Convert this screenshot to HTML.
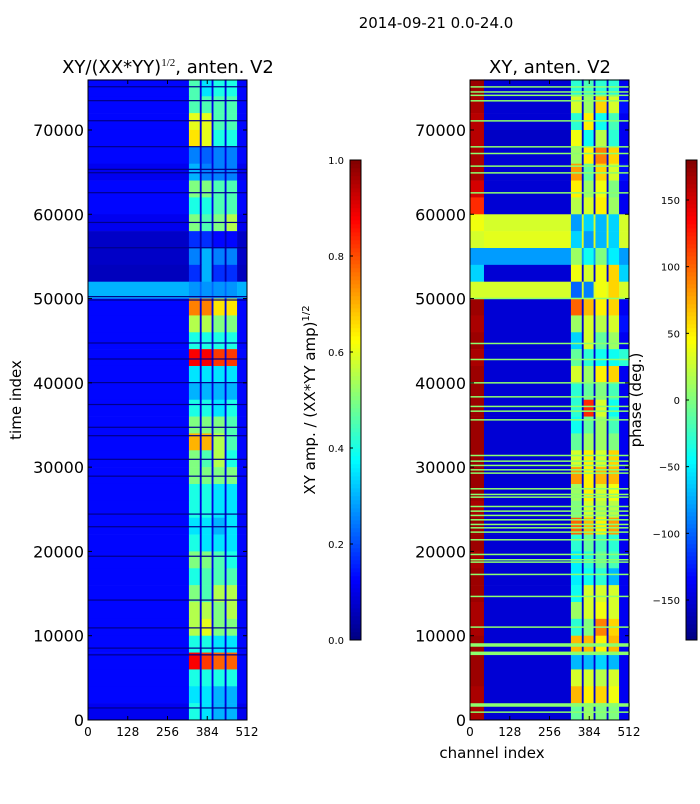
<!DOCTYPE html>
<html><head><meta charset="utf-8"><style>
body{margin:0;background:#fff;width:700px;height:800px;overflow:hidden;font-family:"DejaVu Sans","Liberation Sans",sans-serif}
svg text{font-family:"DejaVu Sans","Liberation Sans",sans-serif}
</style></head><body>
<svg id="fig" width="700" height="800" xmlns="http://www.w3.org/2000/svg">
<text x="436" y="28" font-size="15" text-anchor="middle">2014-09-21 0.0-24.0</text>
<text x="168" y="73" font-size="18" text-anchor="middle">XY/(XX*YY)<tspan dy="-7" font-size="11" font-family="Liberation Serif">1/2</tspan><tspan dy="7">, anten. V2</tspan></text>
<text x="550" y="73" font-size="18" text-anchor="middle">XY, anten. V2</text>
<text transform="translate(21,400) rotate(-90)" font-size="15" text-anchor="middle">time index</text>
<text x="492" y="758" font-size="15" text-anchor="middle">channel index</text>
<text transform="translate(315,400) rotate(-90)" font-size="15" text-anchor="middle">XY amp. / (XX*YY amp)<tspan dy="-6" font-size="10">1/2</tspan></text>
<text transform="translate(641,400) rotate(-90)" font-size="15" text-anchor="middle">phase (deg.)</text>
<g id="left"></g>
<g id="right"></g>
<g id="axes"></g>
</svg>
<script>
// ---- data ----
const rowEdgesK = [76,74,72,70,68,66,64,62,60,58,56,54,52,50,48,46,44,42,40,38,36,34,32,30,28,26,24,22,20,18,16,14,12,10,8,6,4,2,0]; // time index (thousands)
const ampCols = [0,325,360,366,398,404,440,446,480,512]; // channel edges
// amp rows: [background, band1, band2, band3, band4]
const ampVals = [
[.13,.45,.35,.4,.4],[.13,.45,.45,.45,.45],[.13,.6,.6,.45,.45],[.13,.65,.6,.4,.4],[.13,.25,.22,.25,.25],
[.11,.3,.25,.25,.25],[.13,.5,.5,.45,.45],[.13,.4,.4,.45,.45],[.11,.5,.45,.5,.55],[.07,.17,.17,.13,.13],
[.07,.25,.3,.25,.25],[.06,.17,.3,.17,.17],[.3,.27,.27,.27,.27],[.13,.75,.75,.65,.65],[.13,.55,.55,.5,.5],
[.13,.4,.4,.4,.4],[.13,.88,.88,.82,.82],[.13,.35,.35,.35,.35],[.13,.3,.3,.3,.3],[.13,.4,.4,.35,.4],
[.13,.5,.5,.5,.45],[.13,.7,.7,.55,.45],[.13,.5,.45,.55,.4],[.13,.5,.5,.5,.5],[.13,.4,.4,.35,.35],
[.13,.4,.4,.35,.35],[.13,.35,.35,.3,.35],[.13,.4,.35,.35,.35],[.13,.5,.5,.45,.4],[.13,.4,.45,.45,.45],
[.13,.5,.45,.55,.55],[.13,.55,.55,.5,.55],[.13,.55,.6,.5,.5],[.13,.4,.4,.35,.35],[.13,.88,.82,.78,.78],
[.13,.4,.4,.4,.4],[.13,.35,.35,.3,.3],[.11,.4,.35,.3,.3]];
const ampDarkLines = [75200,73550,71170,68090,65400,65000,62630,59100,56100,50300,49900,44800,42900,40100,37500,34800,33800,31000,29000,24500,23000,19500,14300,11000,8600,7800,1500];
const phaseCols = [0,45,325,360,366,398,404,440,446,480,512];
// phase rows: [redzone, mid, band1, band2, band3, band4, right]
const phaseVals = [
[170,-150,-30,-20,-30,-30,-140],[165,-150,30,10,60,30,-130],[160,-150,-30,50,-40,-20,-140],[160,-155,40,-40,20,-30,-140],
[165,-150,10,50,90,60,-140],[165,-150,80,-10,60,30,-130],[150,-150,50,10,40,0,-140],[120,-150,20,30,50,10,-140],
[40,30,-80,-60,-70,-60,30],[30,35,-60,-80,-70,-60,30],[-80,-80,10,-40,0,-50,-80],[-60,-150,40,30,40,60,-60],
[30,30,-100,-90,40,60,30],[170,-150,100,70,50,60,-140],[165,-150,10,30,20,30,-130],[170,-150,-60,30,-10,10,-140],
[165,-150,-10,-30,-40,-40,-30],[170,-150,30,10,50,60,-140],[170,-150,-30,-10,0,-20,-140],[170,-150,-30,120,30,-40,-140],
[170,-150,-40,-10,10,-20,-140],[170,-150,-10,10,10,0,-140],[170,-150,30,50,30,60,-140],[170,-150,80,50,70,70,-140],
[170,-150,10,50,30,40,-140],[165,-150,0,30,20,20,-140],[170,-150,100,70,50,80,-140],[170,-150,-30,-10,-20,-30,-140],
[165,-150,-50,-30,-10,-20,-140],[170,-150,-50,-40,-30,-70,-140],[170,-150,-40,30,30,30,-140],[165,-150,10,30,40,30,-140],
[165,-150,-30,0,90,60,-140],[170,-150,70,70,50,70,-140],[170,-150,-70,-70,-60,-70,-140],[170,-150,30,30,20,30,-140],
[165,-150,70,50,60,40,-140],[165,-150,-10,10,0,0,-140]];
const greenLines = [75200,74600,74200,73550,71170,68090,67300,65800,65000,62630,50100,44760,42860,40090,38430,37290,36730,35700,31470,30800,30290,29770,29380,27520,26850,26530,25420,24870,24360,23840,23290,22890,22380,21470,19730,19100,18820,17360,14750,11110,1020];
const thickGreen = [8930,7940,1810];
const yTicks = [0,10000,20000,30000,40000,50000,60000,70000];
const xTicks = [0,128,256,384,512];
const ampTicks = [0.0,0.2,0.4,0.6,0.8,1.0];
const phaseTicks = [-150,-100,-50,0,50,100,150];
// ---- helpers ----
const NS="http://www.w3.org/2000/svg";
function jet(v){v=Math.max(0,Math.min(1,v));
 const r=Math.min(4*v-1.5,-4*v+4.5),g=Math.min(4*v-0.5,-4*v+3.5),b=Math.min(4*v+0.5,-4*v+2.5);
 const c=x=>Math.round(255*Math.max(0,Math.min(1,x)));return `rgb(${c(r)},${c(g)},${c(b)})`;}
const Y0=720,Y1=80,TMAX=75930;
const yS=t=>Y0-(t/TMAX)*(Y0-Y1);
function xS(ch,x0){return x0+ch/512*159;}
function mk(tag,attrs,parent){const e=document.createElementNS(NS,tag);for(const k in attrs)e.setAttribute(k,attrs[k]);parent.appendChild(e);return e;}
const L=document.getElementById('left'),R=document.getElementById('right'),A=document.getElementById('axes');
// left heatmap
for(let i=0;i<ampVals.length;i++){
 const yt=yS(rowEdgesK[i]*1000),yb=yS(rowEdgesK[i+1]*1000);
 const row=ampVals[i];const map=[0,1,0,2,0,3,0,4,0];
 for(let j=0;j<ampCols.length-1;j++){
  let v=row[map[j]]; if(map[j]===0&&j>0&&j<8) v=row[0]*0.75;
  const x0=xS(ampCols[j],88),x1=xS(ampCols[j+1],88);
  const r=mk('rect',{x:x0,y:yt,width:x1-x0+0.3,height:yb-yt+0.3,fill:jet(v)},L);
  
  
 }
}
for(const t of ampDarkLines){const r=mk('rect',{x:88,y:yS(t),width:159,height:1.2,fill:'#00008a'},L);
 
 }
// right heatmap
for(let i=0;i<phaseVals.length;i++){
 const yt=yS(rowEdgesK[i]*1000),yb=yS(rowEdgesK[i+1]*1000);
 const row=phaseVals[i];const map=[0,1,2,1,3,1,4,1,5,6];
 for(let j=0;j<phaseCols.length-1;j++){
  let v=row[map[j]];
  const x0=xS(phaseCols[j],470),x1=xS(phaseCols[j+1],470);
  const r=mk('rect',{x:x0,y:yt,width:x1-x0+0.3,height:yb-yt+0.3,fill:jet((v+180)/360)},R);
  
  
 }
}
for(const t of greenLines){const r=mk('rect',{x:470,y:yS(t),width:160,height:1.5,fill:'#8cff6e'},R);
 
 }
for(const t of thickGreen){const r=mk('rect',{x:470,y:yS(t)-1.5,width:160,height:3.5,fill:'#8cff6e'},R);
 
 }
// frames & ticks
for(const x0 of [88,470]){
 const f=mk('rect',{x:x0,y:80,width:159,height:640,fill:'none',stroke:'#000','stroke-width':1},A);
 
 
 for(const t of yTicks){const y=yS(t);
  mk('line',{x1:x0,x2:x0+4,y1:y,y2:y,stroke:'#000'},A);mk('line',{x1:x0+155,x2:x0+159,y1:y,y2:y,stroke:'#000'},A);
  const tx=mk('text',{x:x0-4,y:y+6,'font-size':16,'text-anchor':'end'},A);tx.textContent=t;
  
  }
 for(const c of xTicks){const x=xS(c,x0);
  mk('line',{x1:x,x2:x,y1:720,y2:716,stroke:'#000'},A);mk('line',{x1:x,x2:x,y1:80,y2:84,stroke:'#000'},A);
  const tx=mk('text',{x:x,y:736,'font-size':12,'text-anchor':'middle'},A);tx.textContent=c;
  
  }
}
// colorbars
function cbar(x0,ticks,norm,fmt,name){
 for(let k=0;k<120;k++){const v=k/120;const r=mk('rect',{x:x0,y:640-(k+1)*4,width:11,height:4.3,fill:jet(v+1/240)},A);
  
  }
 const f=mk('rect',{x:x0,y:160,width:11,height:480,fill:'none',stroke:'#000'},A);
 
 
 for(const t of ticks){const y=640-norm(t)*480;
  mk('line',{x1:x0,x2:x0+3,y1:y,y2:y,stroke:'#000'},A);
  const tx=mk('text',{x:x0-6,y:y+4,'font-size':10,'text-anchor':'end'},A);tx.textContent=fmt(t);
  
  }
}
cbar(350,ampTicks,v=>v,v=>v.toFixed(1),'amp-colorbar');
cbar(686,phaseTicks,v=>(v+180)/360,v=>v<0?'\u2212'+(-v):String(v),'phase-colorbar');
</script>
</body></html>
